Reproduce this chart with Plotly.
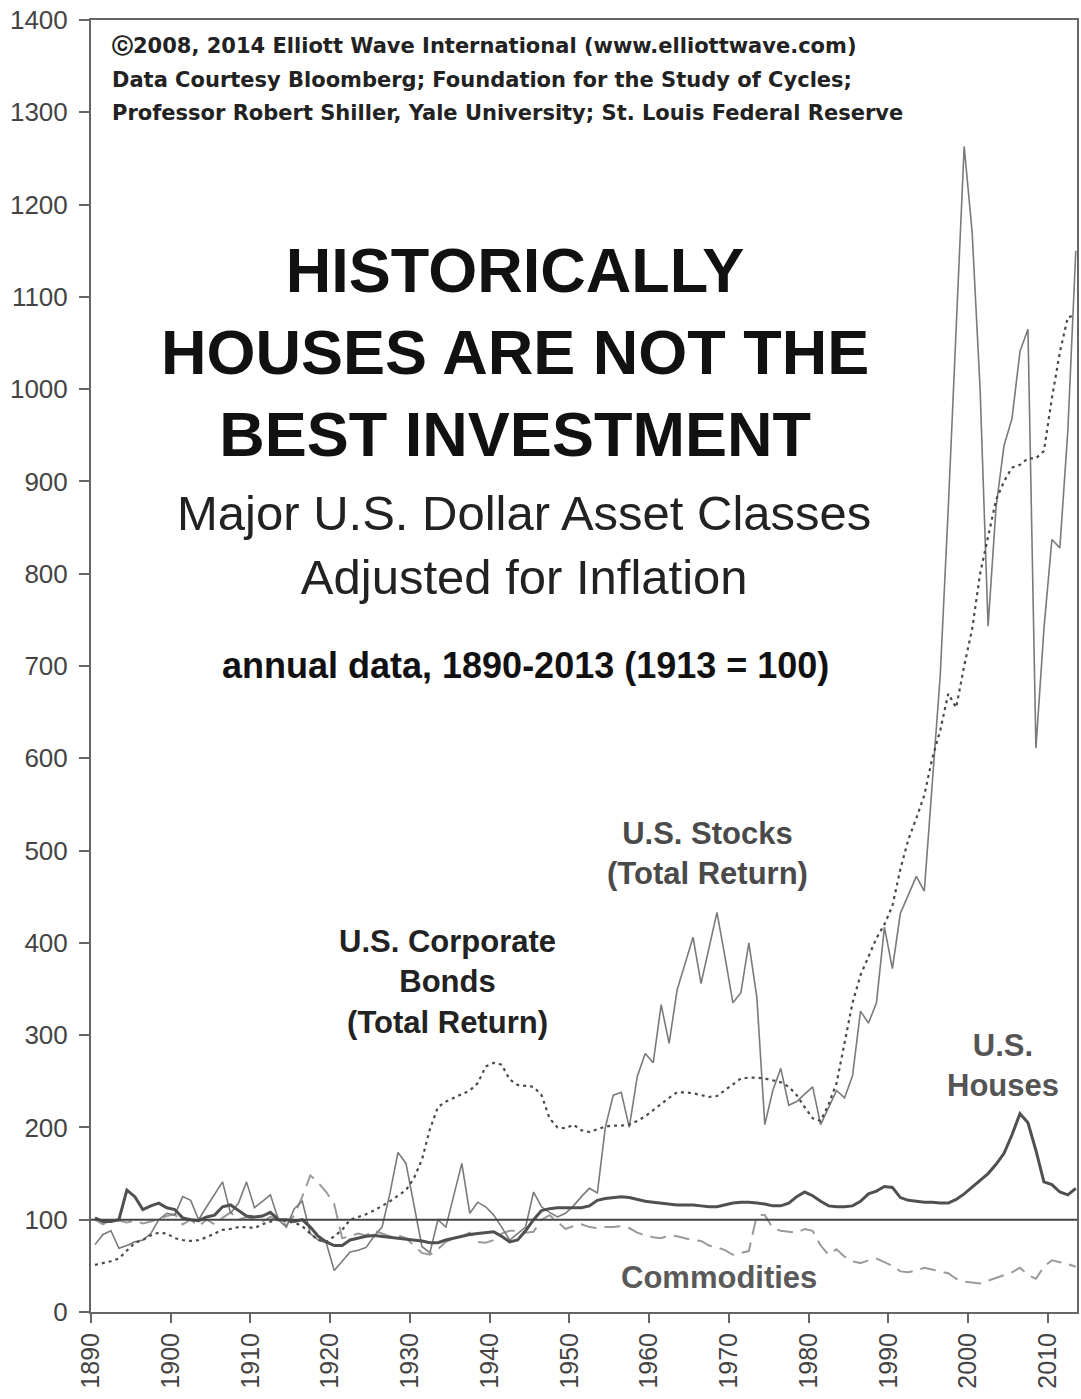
import plotly.graph_objects as go

years = list(range(1890, 2014))

stocks = [
    73, 84, 88, 69, 72, 76, 78, 85, 100, 107,
    105, 125, 121, 100, 114, 128, 141, 107, 118, 141,
    113, 120, 127, 100, 92, 112, 120, 85, 78, 75,
    45, 55, 65, 67, 70, 82, 92, 129, 173, 161,
    118, 71, 64, 100, 92, 125, 161, 107, 119, 114,
    105, 92, 78, 85, 92, 130, 114, 108, 103, 107,
    115, 125, 134, 129, 200, 235, 238, 200, 255, 280,
    270, 333, 291, 349, 378, 406, 356, 395, 433, 385,
    335, 346, 400, 341, 203, 240, 264, 224, 228, 236,
    244, 203, 222, 240, 232, 256, 326, 313, 335, 417,
    372, 432, 452, 472, 456, 570, 690, 870, 1060, 1263,
    1170, 1000, 743, 872, 939, 968, 1041, 1065, 611, 740,
    837, 828, 955, 1150,
]

bonds = [
    51, 53, 55, 58, 67, 75, 78, 83, 86, 85,
    80, 78, 77, 78, 81, 85, 89, 90, 92, 92,
    91, 95, 98, 100, 98, 97, 93, 85, 78, 76,
    82, 89, 100, 103, 106, 110, 115, 120, 126, 132,
    145, 165, 198, 222, 228, 232, 236, 240, 248, 266,
    270, 268, 252, 246, 245, 244, 235, 210, 200, 199,
    203, 197, 195, 198, 201, 202, 202, 203, 207, 212,
    219, 226, 232, 238, 238, 237, 235, 233, 234, 240,
    247, 253, 254, 254, 253, 251, 249, 244, 235, 222,
    210, 207, 225, 248, 290, 335, 365, 385, 405, 420,
    440, 480, 512, 535, 560, 600, 630, 670, 655, 700,
    740, 800, 840, 880, 900, 915, 918, 925, 925, 933,
    990, 1040, 1078, 1080,
]

houses = [
    102, 98, 98, 100, 132, 125, 111, 115, 118, 113,
    111, 102, 100, 99, 103, 105, 114, 116, 110, 104,
    103, 104, 108, 100, 100, 98, 100, 92, 82, 76,
    72, 72, 78, 80, 82, 83, 82, 81, 80, 79,
    78, 77, 75, 75, 78, 80, 82, 84, 85, 86,
    87, 82, 76, 78, 88, 100, 110, 112, 113, 113,
    113, 113, 115, 121, 123, 124, 125, 124, 122, 120,
    119, 118, 117, 116, 116, 116, 115, 114, 114, 116,
    118, 119, 119, 118, 117, 115, 115, 118, 125, 130,
    126, 120, 115, 114, 114, 115, 120, 128, 131, 136,
    135, 124, 121, 120, 119, 119, 118, 118, 122, 128,
    135, 143, 150, 160, 172, 192, 215, 205, 175, 141,
    138, 130, 127, 134,
]

commodities = [
    100, 95, 100, 99, 97, 99, 96, 98, 101, 104,
    106, 95, 100, 93, 100, 95, 102, 108, 100, 103,
    100, 98, 103, 100, 94, 105, 125, 148, 140, 130,
    117, 80, 82, 85, 83, 88, 85, 82, 83, 80,
    72, 64, 62, 68, 76, 80, 82, 86, 76, 75,
    78, 85, 88, 88, 86, 87, 100, 105, 98, 90,
    93, 95, 92, 91, 92, 92, 93, 91, 86, 83,
    81, 80, 83, 82, 80, 78, 77, 72, 70, 67,
    62, 64, 66, 105, 105, 91, 88, 87, 86, 90,
    88, 72, 62, 68, 60, 55, 53, 56, 58, 54,
    50, 44, 43, 45, 48, 46, 44, 42, 36, 33,
    32, 31, 34, 37, 40, 43, 48, 40, 36, 49,
    56, 54, 52, 49,
]

decades = list(range(1890, 2020, 10))
y_ticks = list(range(0, 1500, 100))
base_value = 100

copyright_lines = [
    "\u24d22008, 2014 Elliott Wave International (www.elliottwave.com)",
    "Data Courtesy Bloomberg; Foundation for the Study of Cycles;",
    "Professor Robert Shiller, Yale University; St. Louis Federal Reserve",
]

FONT = "Liberation Sans, Arial, Helvetica, sans-serif"

fig = go.Figure()
fig.add_trace(go.Scatter(x=years, y=commodities, mode="lines", name="Commodities",
                         line=dict(color="#9a9a9a", width=2, dash="16px,8px")))
fig.add_trace(go.Scatter(x=years, y=stocks, mode="lines", name="U.S. Stocks",
                         line=dict(color="#7a7a7a", width=1.6)))
fig.add_trace(go.Scatter(x=years, y=bonds, mode="lines", name="U.S. Corporate Bonds",
                         line=dict(color="#4a4a4a", width=2.2, dash="3px,4px")))
fig.add_trace(go.Scatter(x=years, y=houses, mode="lines", name="U.S. Houses",
                         line=dict(color="#505050", width=3)))

fig.add_hline(y=base_value, line=dict(color="#444444", width=2))

L, R, T, B = 91, 2, 20, 87
W, H = 1081, 1399
pw, ph = W - L - R, H - T - B


def px(x):
    return (x - L) / pw


def py(y):
    return (H - B - y) / ph


annotations = []
for line, yy in zip(copyright_lines, [46, 80, 113]):
    annotations.append(dict(xref="paper", yref="paper", x=px(110), y=py(yy), xanchor="left",
                            yanchor="middle", showarrow=False, text=f"<b>{line}</b>",
                            font=dict(family="DejaVu Sans, sans-serif", size=21, color="#222")))

labels = [
    dict(x=px(516), y=py(352), text="<b>HISTORICALLY<br>HOUSES ARE NOT THE<br>BEST INVESTMENT</b>",
         font=dict(family=FONT, size=63, color="#111")),
    dict(x=px(525), y=py(545), text="Major U.S. Dollar Asset Classes<br>Adjusted for Inflation",
         font=dict(family=FONT, size=49, color="#222")),
    dict(x=px(526), y=py(665), text="<b>annual data, 1890-2013 (1913 = 100)</b>",
         font=dict(family=FONT, size=36, color="#111")),
    dict(x=px(709), y=py(853), text="<b>U.S. Stocks<br>(Total Return)</b>",
         font=dict(family=FONT, size=31, color="#4a4a4a")),
    dict(x=px(448), y=py(982), text="<b>U.S. Corporate<br>Bonds<br>(Total Return)</b>",
         font=dict(family=FONT, size=31, color="#222")),
    dict(x=px(1005), y=py(1065), text="<b>U.S.<br>Houses</b>",
         font=dict(family=FONT, size=31, color="#555")),
    dict(x=px(720), y=py(1277), text="<b>Commodities</b>",
         font=dict(family=FONT, size=31, color="#5a5a5a")),
]
for a in labels:
    a.update(xref="paper", yref="paper", xanchor="center", yanchor="middle", showarrow=False)
annotations += labels

fig.update_layout(
    width=W, height=H,
    margin=dict(l=L, r=R, t=T, b=B, pad=0),
    paper_bgcolor="white", plot_bgcolor="white",
    showlegend=False,
    annotations=annotations,
    xaxis=dict(range=[1889.5, 2013.15], tickmode="array",
               tickvals=[d - 0.5 for d in decades], ticktext=[str(d) for d in decades],
               tickangle=-90, ticks="outside", ticklen=9, tickwidth=2, tickcolor="#666",
               showline=True, linecolor="#666", linewidth=2, mirror=True,
               showgrid=False, zeroline=False,
               tickfont=dict(family=FONT, size=25, color="#444")),
    yaxis=dict(range=[0, 1400], tickmode="array", tickvals=y_ticks,
               ticktext=[str(v) for v in y_ticks],
               ticks="outside", ticklen=10, tickwidth=2, tickcolor="#666",
               ticklabelstandoff=6,
               showline=True, linecolor="#666", linewidth=2, mirror=True,
               showgrid=False, zeroline=False,
               tickfont=dict(family=FONT, size=26, color="#444")),
)

fig.write_html("out.html", config={"displayModeBar": False},
               post_script="document.body.style.margin='0px';")
